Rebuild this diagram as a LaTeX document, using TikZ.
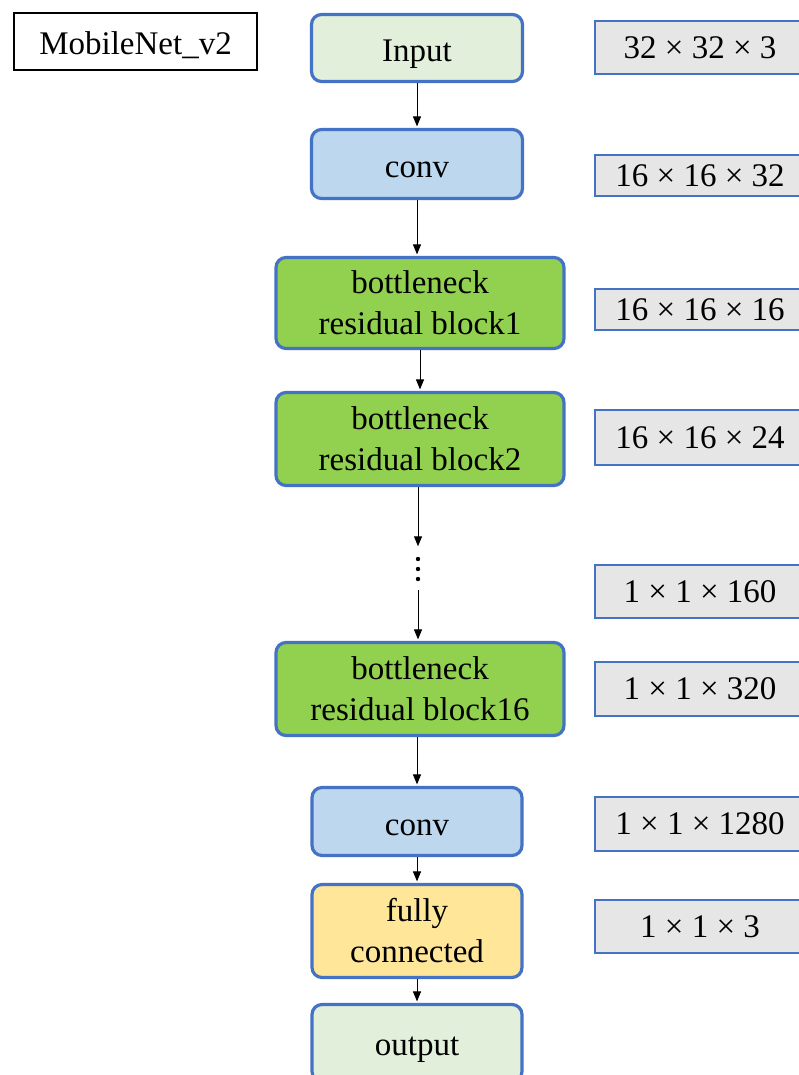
\documentclass[tikz,border=0pt]{standalone}
\usepackage{fontspec}
\setmainfont{Liberation Serif}
\usetikzlibrary{arrows.meta,calc}
\definecolor{bordblue}{HTML}{4472C4}
\definecolor{ingreen}{HTML}{E2EFDA}
\definecolor{convblue}{HTML}{BDD7EE}
\definecolor{blkgreen}{HTML}{92D050}
\definecolor{fcyellow}{HTML}{FFE699}
\definecolor{dimgray}{HTML}{E7E6E6}
\tikzset{
  layerbox/.style={draw=bordblue, line width=3.2pt, rounded corners=10pt, inner sep=0pt,
    align=center, font=\fontsize{33}{41}\selectfont},
  oneline/.style={text height=30pt, text depth=2pt},
  dimbox/.style={draw=bordblue, line width=1.5pt, fill=dimgray, inner sep=0pt,
    minimum width=210pt, font=\fontsize{33}{40}\selectfont},
  titlebox/.style={draw=black, line width=1.2pt, inner sep=0pt, text height=27pt, text depth=0pt,
    minimum width=243pt, minimum height=57pt, font=\fontsize{33}{40}\selectfont},
  flow/.style={-{Triangle[length=10pt,width=8pt]}, line width=1pt, black, shorten >=1.5pt}
}
\begin{document}
\begin{tikzpicture}[x=1pt,y=-1pt]
\useasboundingbox (0,0) rectangle (798,1075);
\fill[white] (0,0) rectangle (798,1075);

\node[titlebox] (title) at (135.5,41.5) {MobileNet\_v2};

\node[layerbox, oneline, fill=ingreen, minimum width=211pt, minimum height=67pt] (in) at (417,48) {Input};
\node[layerbox, oneline, fill=convblue, minimum width=211pt, minimum height=69pt] (conva) at (417,164) {conv};
\node[layerbox, fill=blkgreen, minimum width=288pt, minimum height=91pt] (ba) at (420,303) {bottleneck\\residual block1};
\node[layerbox, fill=blkgreen, minimum width=288pt, minimum height=93pt] (bb) at (420,439) {bottleneck\\residual block2};
\node[inner sep=0pt, minimum width=4pt, minimum height=42pt] (dots) at (418,569) {};
\node[layerbox, fill=blkgreen, minimum width=288pt, minimum height=93pt] (bp) at (420,689) {bottleneck\\residual block16};
\node[layerbox, oneline, fill=convblue, minimum width=210pt, minimum height=68pt] (convb) at (417,821.5) {conv};
\node[layerbox, fill=fcyellow, minimum width=210pt, minimum height=93pt] (fc) at (417,931) {fully\\connected};
\node[layerbox, text height=26pt, text depth=2pt, fill=ingreen, minimum width=210pt, minimum height=77pt] (out) at (417,1043) {output};

\foreach \dy in {-10,0,10} \fill[black] ($(dots.center)+(0,\dy)$) circle (2.2pt);

\node[dimbox, minimum height=53pt] (ra) at (700,47.5) {32 × 32 × 3};
\node[dimbox, minimum height=41pt] (rb) at (700,175.5) {16 × 16 × 32};
\node[dimbox, minimum height=41pt] (rc) at (700,309.5) {16 × 16 × 16};
\node[dimbox, minimum height=55pt] (rd) at (700,437.5) {16 × 16 × 24};
\node[dimbox, minimum height=53pt] (re) at (700,591.5) {1 × 1 × 160};
\node[dimbox, minimum height=54pt] (rf) at (700,689) {1 × 1 × 320};
\node[dimbox, minimum height=54pt] (rg) at (700,824) {1 × 1 × 1280};
\node[dimbox, minimum height=53pt] (rh) at (700,926.5) {1 × 1 × 3};

\draw[flow] (in) -- (conva);
\draw[flow] (conva) -- (conva |- ba.north);
\draw[flow] (ba) -- (bb);
\draw[flow] (bb.south -| dots) -- (dots.north);
\draw[flow] (dots.south) -- (bp.north -| dots);
\draw[flow] (bp.south -| convb) -- (convb);
\draw[flow] (convb) -- (fc);
\draw[flow] (fc) -- (out);
\end{tikzpicture}
\end{document}
